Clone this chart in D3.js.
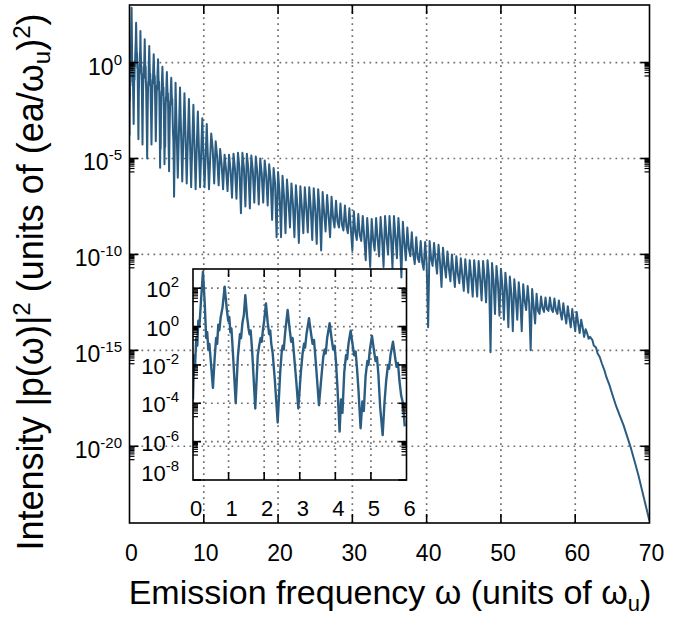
<!DOCTYPE html>
<html>
<head>
<meta charset="utf-8">
<script src="https://cdn.jsdelivr.net/npm/d3@7"></script>
<style>
  body { margin: 0; background: #fff; }
  svg { display: block; font-family: "Liberation Sans", Arial, sans-serif; }
</style>
</head>
<body>
<svg id="chart" width="692" height="617"></svg>
<script>
// spectrum: [omega, log10 intensity]
const insetSpec = [
  [0.00,-3.8],[0.03,-1.5],[0.06,-2.0],[0.09,-0.6],[0.12,-1.0],[0.15,0.3],[0.18,0.0],[0.22,1.2],[0.28,2.86],[0.33,1.2],[0.37,-0.6],[0.40,-0.3],[0.43,-1.2],[0.46,-0.9],[0.50,-1.8],[0.56,-3.2],
  [0.61,-1.6],[0.65,-0.6],[0.68,-0.9],[0.71,0.1],[0.74,-0.2],[0.78,0.5],[0.83,1.0],[0.89,2.08],[0.95,0.9],[0.99,0.3],[1.02,0.5],[1.05,-0.3],[1.08,-0.1],[1.12,-1.3],[1.20,-4.0],
  [1.26,-1.6],[1.29,-1.0],[1.32,-0.4],[1.35,-0.6],[1.39,0.2],[1.43,0.6],[1.47,1.64],[1.52,0.5],[1.56,-0.1],[1.59,-0.4],[1.62,-0.2],[1.66,-1.2],[1.75,-4.27],
  [1.82,-1.5],[1.86,-1.0],[1.90,-0.6],[1.93,-0.8],[1.97,-0.1],[2.00,0.3],[2.05,1.21],[2.10,0.2],[2.14,-0.4],[2.17,-0.2],[2.20,-0.9],[2.24,-1.4],[2.30,-2.8],[2.38,-5.0],
  [2.45,-2.4],[2.49,-1.4],[2.52,-1.0],[2.55,-1.2],[2.59,-0.3],[2.66,0.86],[2.72,-0.2],[2.76,-0.8],[2.80,-0.6],[2.84,-1.5],[2.90,-2.8],[2.96,-4.27],
  [3.03,-2.4],[3.08,-1.4],[3.12,-0.9],[3.15,-1.1],[3.19,-0.4],[3.26,0.43],[3.32,-0.4],[3.36,-0.9],[3.40,-0.7],[3.44,-1.6],[3.48,-2.6],[3.54,-4.1],
  [3.61,-2.6],[3.66,-1.6],[3.70,-1.2],[3.73,-1.4],[3.77,-0.6],[3.84,0.17],[3.90,-0.7],[3.94,-1.2],[3.98,-1.0],[4.02,-1.9],[4.06,-3.2],[4.12,-5.48],
  [4.16,-3.8],[4.20,-4.5],[4.25,-2.4],[4.30,-1.5],[4.33,-1.7],[4.37,-0.9],[4.43,-0.22],[4.49,-1.0],[4.53,-1.5],[4.57,-1.3],[4.61,-2.2],[4.65,-3.3],[4.71,-5.3],
  [4.76,-3.9],[4.80,-4.4],[4.85,-2.6],[4.90,-1.8],[4.93,-2.0],[4.97,-1.2],[5.03,-0.49],[5.09,-1.3],[5.13,-1.8],[5.17,-1.6],[5.21,-2.5],[5.26,-4.2],[5.33,-5.66],
  [5.38,-4.0],[5.43,-2.8],[5.48,-2.0],[5.51,-2.2],[5.55,-1.5],[5.62,-0.79],[5.68,-1.6],[5.72,-2.1],[5.76,-1.9],[5.80,-2.8],[5.85,-3.6],[5.90,-4.0],[5.95,-5.2]
];

const spec6to11 = [
  [6.0,-7.0],[6.2,-1.05],[6.35,-3.6],[6.5,-6.0],[6.65,-3.7],[6.8,-1.3],[6.95,-3.8],[7.1,-6.2],[7.25,-3.9],[7.4,-1.6],[7.55,-4.0],[7.7,-6.3],[7.85,-4.1],
  [8.0,-1.9],[8.15,-4.2],[8.3,-6.5],[8.45,-4.3],[8.6,-2.2],[8.75,-4.4],[8.9,-6.6],[9.05,-4.5],[9.2,-2.55],[9.35,-4.6],[9.5,-6.5],[9.65,-4.7],
  [9.8,-2.9],[9.95,-4.8],[10.1,-6.5],[10.25,-4.9],[10.4,-3.2],[10.55,-5.0],[10.7,-6.6],[10.85,-5.1]
];

const spec11to20 = [
  [11.0,-3.7],[11.2,-4.5],[11.4,-6.3],[11.6,-4.1],[11.8,-4.9],[12.0,-6.4],[12.2,-4.5],[12.4,-5.3],[12.6,-6.6],[12.8,-4.8],[13.0,-5.6],[13.2,-6.7],
  [13.4,-4.8],[13.6,-5.6],[13.8,-7.05],[14.0,-4.75],[14.2,-5.55],[14.4,-7.1],[14.6,-4.7],[14.8,-5.5],[15.0,-7.85],[15.2,-4.7],[15.4,-5.5],[15.6,-7.5],
  [15.8,-4.75],[16.0,-5.55],[16.2,-7.6],[16.4,-4.85],[16.6,-5.65],[16.8,-7.3],[17.0,-4.9],[17.2,-5.7],[17.4,-7.4],[17.6,-5.0],[17.8,-5.8],[18.0,-7.3],
  [18.2,-5.1],[18.4,-5.9],[18.6,-7.45],[18.8,-5.3],[19.0,-6.1],[19.2,-8.2],[19.4,-5.5],[19.6,-6.3],[19.8,-9.1]
];

const spec20to40 = [
  [20.0,-5.7],[20.2,-6.8],[20.4,-9.1],[20.6,-5.9],[20.8,-7.0],[21.0,-8.9],[21.2,-6.1],[21.4,-7.2],[21.6,-8.6],[21.8,-6.3],[22.0,-7.4],[22.2,-9.1],
  [22.4,-6.4],[22.6,-7.5],[22.8,-9.4],[23.0,-6.45],[23.2,-7.55],[23.4,-8.9],[23.6,-6.5],[23.8,-7.6],[24.0,-8.85],[24.2,-6.5],[24.4,-7.6],[24.6,-9.25],
  [24.8,-6.55],[25.0,-7.65],[25.2,-9.45],[25.4,-6.6],[25.6,-7.7],[25.8,-9.8],[26.0,-6.75],[26.2,-7.85],[26.4,-8.8],[26.6,-6.9],[26.8,-8.0],[27.0,-9.1],
  [27.2,-7.0],[27.4,-8.1],[27.6,-8.6],[27.8,-7.2],[28.0,-8.3],[28.2,-8.6],[28.4,-7.35],[28.6,-8.45],[28.8,-8.75],[29.0,-7.45],[29.2,-8.55],[29.4,-8.9],
  [29.6,-7.6],[29.8,-8.7],[30.0,-9.8],[30.2,-7.75],[30.4,-8.85],[30.6,-9.25],[30.8,-7.9],[31.0,-9.0],[31.2,-9.3],[31.4,-8.0],[31.6,-9.1],[31.8,-10.3],
  [32.0,-8.1],[32.2,-9.2],[32.4,-10.65],[32.6,-8.15],[32.8,-9.25],[33.0,-9.8],[33.2,-8.1],[33.4,-9.2],[33.6,-10.1],[33.8,-8.05],[34.0,-9.15],[34.2,-10.65],
  [34.4,-8.0],[34.6,-9.1],[34.8,-10.0],[35.0,-8.0],[35.2,-9.1],[35.4,-10.7],[35.6,-8.0],[35.8,-9.1],[36.0,-10.2],[36.2,-8.1],[36.4,-9.2],[36.6,-11.2],
  [36.8,-8.3],[37.0,-9.4],[37.2,-10.3],[37.4,-8.6],[37.6,-9.7],[37.8,-10.1],[38.0,-8.85],[38.2,-9.95],[38.4,-10.5],[38.6,-9.1],[38.8,-10.2],[39.0,-10.4],
  [39.2,-9.3],[39.4,-10.4],[39.6,-10.8],[39.8,-9.35],[40.0,-10.45],[40.2,-13.8]
];

const spec40to62 = [
  [40.4,-9.3],[40.6,-10.2],[40.8,-10.6],[41.0,-9.4],[41.2,-10.3],[41.4,-11.0],[41.6,-9.5],[41.8,-10.4],[42.0,-11.7],[42.2,-9.65],[42.4,-10.55],[42.6,-11.2],
  [42.8,-9.85],[43.0,-10.75],[43.2,-11.4],[43.4,-10.0],[43.6,-10.9],[43.8,-11.7],[44.0,-10.1],[44.2,-11.0],[44.4,-11.5],[44.6,-10.2],[44.8,-11.1],[45.0,-11.9],
  [45.2,-10.25],[45.4,-11.15],[45.6,-12.0],[45.8,-10.3],[46.0,-11.2],[46.2,-12.2],[46.4,-10.3],[46.6,-11.2],[46.8,-12.2],[47.0,-10.35],[47.2,-11.25],[47.4,-12.4],
  [47.6,-10.35],[47.8,-11.25],[48.0,-12.5],[48.2,-10.3],[48.4,-11.2],[48.6,-15.1],[48.8,-10.45],[49.0,-11.35],[49.2,-13.1],[49.4,-10.6],[49.6,-11.5],[49.8,-13.2],
  [50.0,-10.75],[50.2,-11.65],[50.4,-13.4],[50.6,-10.95],[50.8,-11.85],[51.0,-13.8],[51.2,-11.15],[51.4,-12.05],[51.6,-14.0],[51.8,-11.3],[52.0,-12.2],[52.2,-13.4],
  [52.4,-11.45],[52.6,-12.35],[52.8,-14.0],[53.0,-11.55],[53.2,-12.45],[53.4,-12.9],[53.6,-11.65],[53.8,-12.55],[54.0,-15.0],[54.2,-11.8],[54.4,-12.7],[54.6,-13.6],
  [54.8,-12.05],[55.0,-12.95],[55.2,-13.1],[55.4,-12.2],[55.6,-12.8],[55.8,-13.0],[56.0,-12.25],[56.2,-12.85],[56.4,-12.95],[56.6,-12.25],[56.8,-12.85],[57.0,-13.0],
  [57.2,-12.3],[57.4,-12.9],[57.6,-13.1],[57.8,-12.4],[58.0,-13.0],[58.2,-13.4],[58.4,-12.55],[58.6,-13.15],[58.8,-13.6],[59.0,-12.7],[59.2,-13.3],[59.4,-13.8],
  [59.6,-12.85],[59.8,-13.45],[60.0,-14.0],[60.2,-13.0],[60.4,-13.6],[60.6,-14.1],[60.8,-13.4],[61.0,-13.8],[61.2,-14.3],[61.4,-13.9],[61.6,-14.1],[61.8,-14.4]
];

const specTail = [
  [62.0,-14.3],[62.3,-14.45],[62.5,-14.75],[62.8,-14.85],[63.0,-15.15],[63.3,-15.35],[63.6,-15.7],[63.9,-16.0],[64.2,-16.4],[64.6,-16.8],[65.0,-17.3],
  [65.5,-17.9],[66.0,-18.4],[66.5,-18.9],[67.0,-19.5],[67.5,-20.1],[68.0,-20.8],[68.5,-21.5],[69.0,-22.3],[69.5,-23.1],[70.0,-23.9]
];

// axes
const mainXTicks = [0, 10, 20, 30, 40, 50, 60, 70];
const mainYExp = [0, -5, -10, -15, -20];
const insetXTicks = [0, 1, 2, 3, 4, 5, 6];
const insetYExp = [2, 0, -2, -4, -6, -8];

const svg = d3.select("#chart");
const lineColor = "#2b5c81";
const gridColor = "#707070";

const x = d3.scaleLinear().domain([0, 70]).range([129.5, 649.5]);
const y = d3.scaleLog().domain([1e-24, 1e3]).range([523, 5]);
const xi = d3.scaleLinear().domain([0, 6]).range([193, 406.5]);
const yi = d3.scaleLog().domain([1e-8, 1e3]).range([480, 269]);

const mainSpec = insetSpec.concat(spec6to11, spec11to20, spec20to40, spec40to62, specTail);

const defs = svg.append("defs");
defs.append("clipPath").attr("id", "clipMain").append("rect")
    .attr("x", x.range()[0]).attr("y", y.range()[1])
    .attr("width", x.range()[1] - x.range()[0]).attr("height", y.range()[0] - y.range()[1]);
defs.append("clipPath").attr("id", "clipInset").append("rect")
    .attr("x", xi.range()[0]).attr("y", yi.range()[1])
    .attr("width", xi.range()[1] - xi.range()[0]).attr("height", yi.range()[0] - yi.range()[1]);

// dotted grid lines
function drawGrid(sx, sy, xVals, yVals) {
    const g = svg.append("g")
        .attr("stroke", gridColor)
        .attr("stroke-width", 1.7)
        .attr("stroke-dasharray", "1.7,4.3");
    g.selectAll(".gx").data(xVals).enter().append("line")
        .attr("x1", d => sx(d)).attr("x2", d => sx(d))
        .attr("y1", sy.range()[0]).attr("y2", sy.range()[1]);
    g.selectAll(".gy").data(yVals).enter().append("line")
        .attr("y1", d => sy(d)).attr("y2", d => sy(d))
        .attr("x1", sx.range()[0]).attr("x2", sx.range()[1]);
}

// inward ticks on all four sides, gnuplot style
function drawTicks(sx, sy, xVals, yVals, len, minorLen) {
    const g = svg.append("g").attr("stroke", "#000").attr("stroke-width", 1.6);
    const [x0, x1] = sx.range();
    const [y0, y1] = sy.range();
    xVals.forEach(v => {
        g.append("line").attr("x1", sx(v)).attr("x2", sx(v)).attr("y1", y0).attr("y2", y0 - len);
        g.append("line").attr("x1", sx(v)).attr("x2", sx(v)).attr("y1", y1).attr("y2", y1 + len);
    });
    yVals.forEach(v => {
        g.append("line").attr("y1", sy(v)).attr("y2", sy(v)).attr("x1", x0).attr("x2", x0 + len);
        g.append("line").attr("y1", sy(v)).attr("y2", sy(v)).attr("x1", x1).attr("x2", x1 - len);
        // minor ticks: 2..9 times the decade below each major tick
        for (let k = 2; k <= 9; k++) {
            const m = k * v / 10;
            if (m < sy.domain()[0]) continue;
            g.append("line").attr("y1", sy(m)).attr("y2", sy(m)).attr("x1", x0).attr("x2", x0 + minorLen).attr("stroke-width", 1.2);
            g.append("line").attr("y1", sy(m)).attr("y2", sy(m)).attr("x1", x1).attr("x2", x1 - minorLen).attr("stroke-width", 1.2);
        }
    });
}

function drawBox(sx, sy) {
    svg.append("rect")
        .attr("x", sx.range()[0]).attr("y", sy.range()[1])
        .attr("width", sx.range()[1] - sx.range()[0])
        .attr("height", sy.range()[0] - sy.range()[1])
        .attr("fill", "none").attr("stroke", "#000").attr("stroke-width", 1.6);
}

function powLabel(px, py, exp, size, expSize) {
    const t = svg.append("text")
        .attr("x", px).attr("y", py)
        .attr("text-anchor", "end")
        .style("font-size", size + "px");
    t.append("tspan").text("10");
    t.append("tspan").attr("dy", -Math.round(size * 0.45)).style("font-size", expSize + "px").text(exp);
}

// ---- main panel ----
drawGrid(x, y, mainXTicks.slice(1, -1), mainYExp.map(e => Math.pow(10, e)));

svg.append("path")
    .datum(mainSpec)
    .attr("clip-path", "url(#clipMain)")
    .attr("fill", "none")
    .attr("stroke", lineColor)
    .attr("stroke-width", 2)
    .attr("stroke-linejoin", "round")
    .attr("d", d3.line().x(d => x(d[0])).y(d => y(Math.pow(10, d[1]))));

drawTicks(x, y, mainXTicks.slice(1, -1), mainYExp.map(e => Math.pow(10, e)), 9, 5);
drawBox(x, y);

svg.append("g").selectAll("text").data(mainXTicks).enter().append("text")
    .attr("x", d => x(d) + 2).attr("y", 561)
    .attr("text-anchor", "middle")
    .style("font-size", "23px")
    .text(d => d);

mainYExp.forEach(e => powLabel(122, y(Math.pow(10, e)) + 12, String(e), 23, 15));

// ---- inset ----
drawGrid(xi, yi, insetXTicks.slice(1, -1), insetYExp.slice(0, -1).map(e => Math.pow(10, e)));

svg.append("path")
    .datum(insetSpec)
    .attr("clip-path", "url(#clipInset)")
    .attr("fill", "none")
    .attr("stroke", lineColor)
    .attr("stroke-width", 2.4)
    .attr("stroke-linejoin", "round")
    .attr("d", d3.line().x(d => xi(d[0])).y(d => yi(Math.pow(10, d[1]))));

drawTicks(xi, yi, insetXTicks.slice(1, -1), insetYExp.map(e => Math.pow(10, e)), 8, 5);
drawBox(xi, yi);

svg.append("g").selectAll("text").data(insetXTicks).enter().append("text")
    .attr("x", d => xi(d) + 3).attr("y", 516)
    .attr("text-anchor", "middle")
    .style("font-size", "22px")
    .text(d => d);

insetYExp.forEach(e => powLabel(179, Math.min(yi(Math.pow(10, e)) + 9, 481), String(e), 22, 15));

// ---- axis titles ----
const xt = svg.append("text")
    .attr("x", 390).attr("y", 604)
    .attr("text-anchor", "middle")
    .style("font-size", "34px");
xt.append("tspan").text("Emission frequency \u03c9 (units of \u03c9");
xt.append("tspan").attr("dy", 7).style("font-size", "22px").text("u");
xt.append("tspan").attr("dy", -7).text(")");

const yt = svg.append("text")
    .attr("transform", "translate(43,282) rotate(-90)")
    .attr("text-anchor", "middle")
    .style("font-size", "36px");
yt.append("tspan").text("Intensity |p(\u03c9)|");
yt.append("tspan").attr("dy", -13).style("font-size", "24px").text("2");
yt.append("tspan").attr("dy", 13).text(" (units of (ea/\u03c9");
yt.append("tspan").attr("dy", 7).style("font-size", "24px").text("u");
yt.append("tspan").attr("dy", -7).text(")");
yt.append("tspan").attr("dy", -13).style("font-size", "24px").text("2");
yt.append("tspan").attr("dy", 13).text(")");
</script>
</body>
</html>
